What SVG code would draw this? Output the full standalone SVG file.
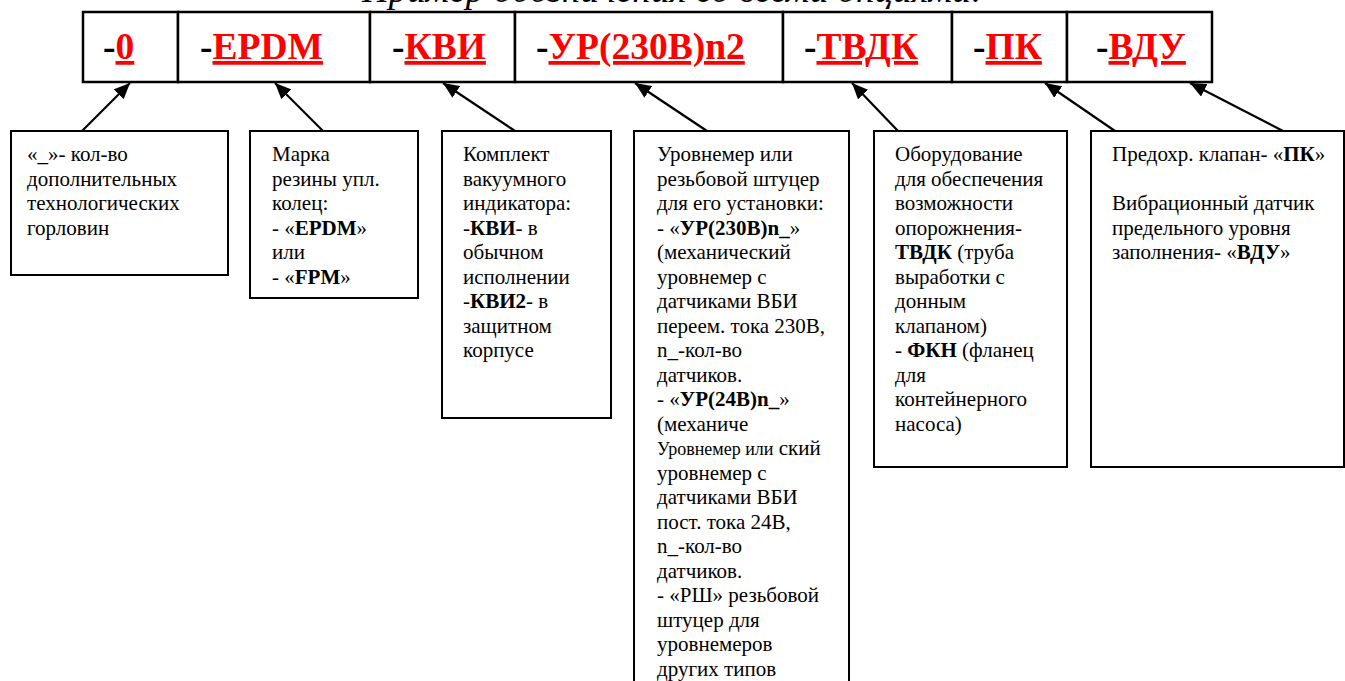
<svg xmlns="http://www.w3.org/2000/svg" width="1345" height="681" viewBox="0 0 1345 681">
<defs>
<style>
.cell{fill:#fff;stroke:#000;stroke-width:2.5}
.box{fill:#fff;stroke:#000;stroke-width:2}
.code{font-family:"Liberation Serif","Times New Roman",serif;font-weight:bold;font-size:37.5px;fill:#000}
.red{fill:#ff0000;text-decoration:underline}
.t{font-family:"Liberation Serif","Times New Roman",serif;font-size:21px;fill:#000}
.b{font-weight:bold}
.sm{font-size:18px}
.title{font-family:"Liberation Serif","Times New Roman",serif;font-style:italic;font-size:37px;fill:#000}
.conn{stroke:#000;stroke-width:2.2;fill:none}
</style>
<marker id="ah" markerUnits="userSpaceOnUse" markerWidth="18" markerHeight="14" refX="16" refY="7" orient="auto">
<path d="M0,0 L16,7 L0,14 Z" fill="#000"/>
</marker>
</defs>
<rect width="1345" height="681" fill="#fff"/>
<text class="title" x="362" y="2">Пример обозначения со всеми опциями:</text>
<g id="code-row">
<g id="c0"><rect class="cell" x="83" y="12" width="95" height="70"/><text class="code" x="103" y="59">-<tspan class="red">0</tspan></text></g>
<g id="c1"><rect class="cell" x="178" y="12" width="192" height="70"/><text class="code" x="200" y="59">-<tspan class="red">EPDM</tspan></text></g>
<g id="c2"><rect class="cell" x="370" y="12" width="145" height="70"/><text class="code" x="392" y="59">-<tspan class="red">КВИ</tspan></text></g>
<g id="c3"><rect class="cell" x="515" y="12" width="268" height="70"/><text class="code" x="536" y="59">-<tspan class="red">УР(230В)n2</tspan></text></g>
<g id="c4"><rect class="cell" x="783" y="12" width="169" height="70"/><text class="code" x="804" y="59">-<tspan class="red">ТВДК</tspan></text></g>
<g id="c5"><rect class="cell" x="952" y="12" width="115" height="70"/><text class="code" x="973" y="59">-<tspan class="red">ПК</tspan></text></g>
<g id="c6"><rect class="cell" x="1067" y="12" width="145" height="70"/><text class="code" x="1096" y="59">-<tspan class="red">ВДУ</tspan></text></g>
</g>
<g id="connectors">
<line class="conn" x1="82" y1="131" x2="130" y2="83" marker-end="url(#ah)"/>
<line class="conn" x1="323" y1="131" x2="275" y2="83" marker-end="url(#ah)"/>
<line class="conn" x1="515" y1="131" x2="443" y2="83" marker-end="url(#ah)"/>
<line class="conn" x1="707" y1="131" x2="635" y2="83" marker-end="url(#ah)"/>
<line class="conn" x1="898" y1="131" x2="852" y2="83" marker-end="url(#ah)"/>
<line class="conn" x1="1115" y1="131" x2="1045" y2="83" marker-end="url(#ah)"/>
<line class="conn" x1="1283" y1="131" x2="1190" y2="83" marker-end="url(#ah)"/>
</g>
<g id="n1">
<rect class="box" x="11" y="131" width="217" height="144"/>
<text class="t" x="27" y="161"><tspan x="27">«_»- кол-во</tspan><tspan x="27" dy="24.5">дополнительных</tspan><tspan x="27" dy="24.5">технологических</tspan><tspan x="27" dy="24.5">горловин</tspan></text>
</g>
<g id="n2">
<rect class="box" x="250" y="131" width="168" height="167"/>
<text class="t" x="272" y="161"><tspan x="272">Марка</tspan><tspan x="272" dy="24.5">резины упл.</tspan><tspan x="272" dy="24.5">колец:</tspan><tspan x="272" dy="24.5">- «<tspan class="b">EPDM</tspan>»</tspan><tspan x="272" dy="24.5">или</tspan><tspan x="272" dy="24.5">- «<tspan class="b">FPM</tspan>»</tspan></text>
</g>
<g id="n3">
<rect class="box" x="442" y="131" width="169" height="287"/>
<text class="t" x="463" y="161"><tspan x="463">Комплект</tspan><tspan x="463" dy="24.5">вакуумного</tspan><tspan x="463" dy="24.5">индикатора:</tspan><tspan x="463" dy="24.5">-<tspan class="b">КВИ</tspan>- в</tspan><tspan x="463" dy="24.5">обычном</tspan><tspan x="463" dy="24.5">исполнении</tspan><tspan x="463" dy="24.5">-<tspan class="b">КВИ2</tspan>- в</tspan><tspan x="463" dy="24.5">защитном</tspan><tspan x="463" dy="24.5">корпусе</tspan></text>
</g>
<g id="n4">
<rect class="box" x="634" y="131" width="215" height="560"/>
<text class="t" x="657" y="161"><tspan x="657">Уровнемер или</tspan><tspan x="657" dy="24.5">резьбовой штуцер</tspan><tspan x="657" dy="24.5">для его установки:</tspan><tspan x="657" dy="24.5">- «<tspan class="b">УР(230В)n_</tspan>»</tspan><tspan x="657" dy="24.5">(механический</tspan><tspan x="657" dy="24.5">уровнемер с</tspan><tspan x="657" dy="24.5">датчиками ВБИ</tspan><tspan x="657" dy="24.5">переем. тока 230В,</tspan><tspan x="657" dy="24.5">n_-кол-во</tspan><tspan x="657" dy="24.5">датчиков.</tspan><tspan x="657" dy="24.5">- «<tspan class="b">УР(24В)n_</tspan>»</tspan><tspan x="657" dy="24.5">(механиче</tspan><tspan x="657" dy="24.5"><tspan class="sm">Уровнемер или</tspan> ский</tspan><tspan x="657" dy="24.5">уровнемер с</tspan><tspan x="657" dy="24.5">датчиками ВБИ</tspan><tspan x="657" dy="24.5">пост. тока 24В,</tspan><tspan x="657" dy="24.5">n_-кол-во</tspan><tspan x="657" dy="24.5">датчиков.</tspan><tspan x="657" dy="24.5">- «РШ» резьбовой</tspan><tspan x="657" dy="24.5">штуцер для</tspan><tspan x="657" dy="24.5">уровнемеров</tspan><tspan x="657" dy="24.5">других типов</tspan></text>
</g>
<g id="n5">
<rect class="box" x="874" y="131" width="193" height="336"/>
<text class="t" x="895" y="161"><tspan x="895">Оборудование</tspan><tspan x="895" dy="24.5">для обеспечения</tspan><tspan x="895" dy="24.5">возможности</tspan><tspan x="895" dy="24.5">опорожнения-</tspan><tspan x="895" dy="24.5"><tspan class="b">ТВДК</tspan> (труба</tspan><tspan x="895" dy="24.5">выработки с</tspan><tspan x="895" dy="24.5">донным</tspan><tspan x="895" dy="24.5">клапаном)</tspan><tspan x="895" dy="24.5">- <tspan class="b">ФКН</tspan> (фланец</tspan><tspan x="895" dy="24.5">для</tspan><tspan x="895" dy="24.5">контейнерного</tspan><tspan x="895" dy="24.5">насоса)</tspan></text>
</g>
<g id="n6">
<rect class="box" x="1091" y="131" width="253" height="336"/>
<text class="t" x="1112" y="161"><tspan x="1112">Предохр. клапан- «<tspan class="b">ПК</tspan>»</tspan><tspan x="1112" dy="49">Вибрационный датчик</tspan><tspan x="1112" dy="24.5">предельного уровня</tspan><tspan x="1112" dy="24.5">заполнения- «<tspan class="b">ВДУ</tspan>»</tspan></text>
</g>
</svg>
